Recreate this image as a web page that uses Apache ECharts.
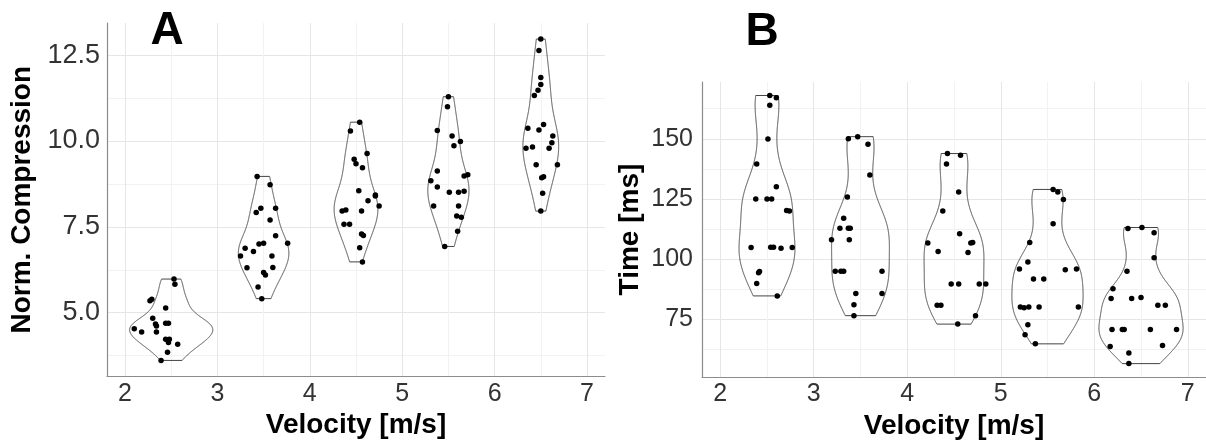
<!DOCTYPE html>
<html>
<head>
<meta charset="utf-8">
<script src="https://cdn.jsdelivr.net/npm/echarts@6/dist/echarts.min.js"></script>
<style>
  html, body { margin: 0; background: #fff; }
  #main { width: 1206px; height: 445px; }
</style>
</head>
<body>
<div id="main"></div>
<script>
const centers = [2.5, 3.5, 4.5, 5.5, 6.5]
const velTicks = [2, 3, 4, 5, 6, 7]
const velGrid = [2, 2.5, 3, 3.5, 4, 4.5, 5, 5.5, 6, 6.5, 7]
const compTicks = [5, 7.5, 10, 12.5]
const compGrid = [3.75, 5, 6.25, 7.5, 8.75, 10, 11.25, 12.5]
const timeTicks = [75, 100, 125, 150]
const timeGrid = [62.5, 75, 87.5, 100, 112.5, 125, 137.5, 150, 162.5]

// [jittered velocity, value] for every trial, one array per velocity group
const comp25 = [[2.53, 5.98], [2.54, 5.83], [2.27, 5.35], [2.29, 5.39], [2.44, 5.14], [2.30, 4.84], [2.33, 4.67], [2.34, 4.61], [2.10, 4.53], [2.18, 4.44], [2.34, 4.44], [2.44, 4.69], [2.47, 4.69], [2.44, 4.23], [2.48, 4.23], [2.47, 4.13], [2.57, 4.08], [2.46, 3.85], [2.39, 3.61]]
const comp35 = [[3.43, 8.97], [3.57, 8.73], [3.42, 7.92], [3.47, 8.04], [3.63, 8.04], [3.57, 7.70], [3.30, 6.88], [3.25, 6.65], [3.39, 6.78], [3.45, 7.00], [3.50, 7.02], [3.63, 7.24], [3.76, 7.02], [3.59, 6.65], [3.32, 6.31], [3.50, 6.17], [3.52, 6.10], [3.60, 6.32], [3.44, 5.75], [3.48, 5.41]]
const comp45 = [[4.54, 10.55], [4.44, 10.29], [4.48, 9.47], [4.50, 9.34], [4.57, 9.22], [4.62, 9.64], [4.53, 8.55], [4.71, 8.43], [4.71, 8.40], [4.63, 8.26], [4.75, 8.11], [4.56, 7.96], [4.35, 7.96], [4.39, 7.99], [4.37, 7.58], [4.43, 7.58], [4.56, 7.29], [4.58, 7.25], [4.54, 6.89], [4.57, 6.48]]
const comp55 = [[5.50, 11.29], [5.49, 11.00], [5.38, 10.31], [5.54, 10.15], [5.63, 9.99], [5.56, 9.86], [5.38, 9.13], [5.31, 8.84], [5.38, 8.66], [5.67, 8.98], [5.71, 9.02], [5.51, 8.51], [5.61, 8.51], [5.67, 8.54], [5.34, 8.11], [5.61, 8.11], [5.59, 7.82], [5.64, 7.78], [5.60, 7.37], [5.46, 6.93]]
const comp65 = [[6.50, 12.97], [6.48, 12.64], [6.50, 11.85], [6.50, 11.65], [6.47, 11.48], [6.43, 11.33], [6.36, 10.37], [6.48, 10.32], [6.53, 10.48], [6.63, 10.15], [6.62, 9.95], [6.34, 9.79], [6.41, 9.83], [6.59, 9.79], [6.68, 9.31], [6.45, 9.31], [6.51, 8.93], [6.53, 8.96], [6.52, 8.48], [6.50, 7.96]]

const time25 = [[2.53, 168.0], [2.60, 167.1], [2.53, 164.0], [2.51, 149.9], [2.39, 139.6], [2.60, 130.1], [2.38, 125.0], [2.50, 125.0], [2.55, 125.0], [2.71, 120.3], [2.74, 120.0], [2.33, 104.9], [2.54, 105.0], [2.57, 105.0], [2.65, 104.6], [2.77, 104.9], [2.42, 94.9], [2.41, 94.4], [2.39, 90.0], [2.61, 84.8]]
const time35 = [[3.37, 150.0], [3.47, 150.9], [3.58, 147.8], [3.60, 135.0], [3.36, 125.9], [3.32, 117.0], [3.28, 112.9], [3.37, 112.9], [3.39, 112.9], [3.19, 108.1], [3.38, 108.1], [3.23, 95.0], [3.29, 95.0], [3.32, 95.0], [3.73, 95.0], [3.45, 85.8], [3.73, 85.8], [3.43, 81.1], [3.43, 76.6]]
const time45 = [[4.43, 143.9], [4.57, 143.2], [4.42, 139.6], [4.55, 127.9], [4.38, 120.1], [4.56, 110.6], [4.22, 106.8], [4.33, 103.2], [4.65, 102.8], [4.68, 106.8], [4.70, 107.0], [4.47, 89.7], [4.55, 89.7], [4.77, 89.7], [4.84, 89.7], [4.32, 80.9], [4.36, 80.9], [4.73, 76.6], [4.54, 73.1]]
const time55 = [[5.56, 129.0], [5.61, 127.9], [5.67, 124.8], [5.56, 114.8], [5.31, 107.0], [5.29, 98.9], [5.20, 96.0], [5.69, 95.7], [5.81, 96.0], [5.35, 91.8], [5.46, 91.8], [5.21, 80.2], [5.25, 79.9], [5.30, 80.2], [5.41, 80.2], [5.83, 80.2], [5.29, 72.8], [5.26, 68.7], [5.37, 64.9]]
const time65 = [[6.36, 112.8], [6.51, 113.2], [6.64, 111.0], [6.64, 100.6], [6.35, 95.0], [6.20, 87.8], [6.18, 83.7], [6.40, 83.7], [6.50, 84.1], [6.68, 80.9], [6.76, 80.9], [6.19, 70.9], [6.30, 70.9], [6.32, 70.9], [6.60, 70.9], [6.88, 70.9], [6.17, 63.8], [6.73, 64.2], [6.37, 61.1], [6.37, 56.7]]

const compGroups = [comp25, comp35, comp45, comp55, comp65]
const timeGroups = [time25, time35, time45, time55, time65]

// violin outline like ggplot: gaussian kde, bw.nrd0, trimmed, scale = 'area', width 0.9
function quantile(s, p) {
  const h = (s.length - 1) * p
  const i = Math.floor(h)
  return s[i] + (h - i) * ((s[i + 1] ?? s[i]) - s[i])
}
function bwNrd0(s) {
  const n = s.length
  const mean = s.reduce((a, b) => a + b, 0) / n
  const sd = Math.sqrt(s.reduce((a, b) => a + (b - mean) ** 2, 0) / (n - 1))
  const lo = Math.min(sd, (quantile(s, 0.75) - quantile(s, 0.25)) / 1.34) || sd || 1
  return 0.9 * lo * Math.pow(n, -0.2)
}
function violins(groups) {
  const out = groups.map((g, i) => {
    const ys = g.map(d => d[1]).sort((a, b) => a - b)
    const bw = bwNrd0(ys)
    const lo = ys[0], hi = ys[ys.length - 1]
    const prof = []
    for (let k = 0; k < 512; k++) {
      const y = lo + (hi - lo) * k / 511
      let s = 0
      ys.forEach(v => { const z = (y - v) / bw; s += Math.exp(-z * z / 2) })
      prof.push([y, s / (ys.length * bw * Math.sqrt(2 * Math.PI))])
    }
    return { x: centers[i], lo, hi, prof }
  })
  const dmax = Math.max(...out.map(v => Math.max(...v.prof.map(p => p[1]))))
  out.forEach(v => v.prof.forEach(p => { p[1] = 0.45 * p[1] / dmax }))
  return out
}
const compViolins = violins(compGroups)
const timeViolins = violins(timeGroups)

const font = 'Liberation Sans, Arial, sans-serif'
const nameStyle = { fontSize: 28, fontWeight: 'bold', color: '#000', fontFamily: font }
const axisLine = { show: true, onZero: false, lineStyle: { color: '#8c8c8c', width: 1.2 } }

function velAxis(gridIndex) {
  return {
    type: 'value', gridIndex, min: 1.805, max: 7.195,
    name: 'Velocity [m/s]', nameLocation: 'middle', nameGap: 34, nameTextStyle: nameStyle,
    axisLine,
    axisTick: { show: false, customValues: velGrid },
    axisLabel: { customValues: velTicks, fontSize: 25, color: '#333', margin: 5, fontFamily: font },
    splitLine: { show: true, lineStyle: { color: ['#e6e6e6', '#f2f2f2'], width: 1 } }
  }
}

function violinSeries(list, idx) {
  return {
    type: 'custom', xAxisIndex: idx, yAxisIndex: idx,
    data: list.map(v => [v.x, v.lo, v.hi]),
    encode: { x: 0, y: [1, 2] },
    renderItem: (params, api) => {
      const v = list[params.dataIndex]
      const pts = v.prof.map(p => api.coord([v.x + p[1], p[0]]))
      for (let i = v.prof.length - 1; i >= 0; i--) pts.push(api.coord([v.x - v.prof[i][1], v.prof[i][0]]))
      return { type: 'polygon', shape: { points: pts }, style: { fill: 'none', stroke: '#444', lineWidth: 1 } }
    },
    z: 2
  }
}

function dotSeries(groups, idx) {
  return {
    type: 'scatter', xAxisIndex: idx, yAxisIndex: idx,
    data: groups.flat(), symbolSize: 5.5,
    itemStyle: { color: '#000', opacity: 1 }, z: 3
  }
}

const chart = echarts.init(document.getElementById('main'))
chart.setOption({
  animation: false,
  backgroundColor: '#fff',
  grid: [
    { left: 107, top: 23, width: 498, height: 353.5 },
    { left: 702, top: 82, width: 510, height: 300 }
  ],
  xAxis: [velAxis(0), velAxis(1)],
  yAxis: [{
    type: 'value', gridIndex: 0, min: 3.142, max: 13.438,
    name: 'Norm. Compression', nameLocation: 'middle', nameRotate: 90, nameGap: 71, nameTextStyle: nameStyle,
    axisLine,
    axisTick: { show: false, customValues: compGrid },
    axisLabel: { customValues: compTicks, formatter: v => v.toFixed(1), fontSize: 27, color: '#333', margin: 7, fontFamily: font },
    splitLine: { show: true, lineStyle: { color: ['#f2f2f2', '#e6e6e6'], width: 1 } }
  }, {
    type: 'value', gridIndex: 1, min: 51.1, max: 173.6,
    name: 'Time [ms]', nameLocation: 'middle', nameRotate: 90, nameGap: 58, nameTextStyle: nameStyle,
    axisLine,
    axisTick: { show: false, customValues: timeGrid },
    axisLabel: { customValues: timeTicks, fontSize: 25, color: '#333', margin: 9, fontFamily: font },
    splitLine: { show: true, lineStyle: { color: ['#f2f2f2', '#e6e6e6'], width: 1 } }
  }],
  graphic: [
    { type: 'text', x: 167, y: 31, z: 100, style: { text: 'A', font: 'bold 46px ' + font, fill: '#000', textAlign: 'center', textVerticalAlign: 'middle' } },
    { type: 'text', x: 762, y: 32, z: 100, style: { text: 'B', font: 'bold 46px ' + font, fill: '#000', textAlign: 'center', textVerticalAlign: 'middle' } }
  ],
  series: [
    violinSeries(compViolins, 0), dotSeries(compGroups, 0),
    violinSeries(timeViolins, 1), dotSeries(timeGroups, 1)
  ]
})
</script>
</body>
</html>
